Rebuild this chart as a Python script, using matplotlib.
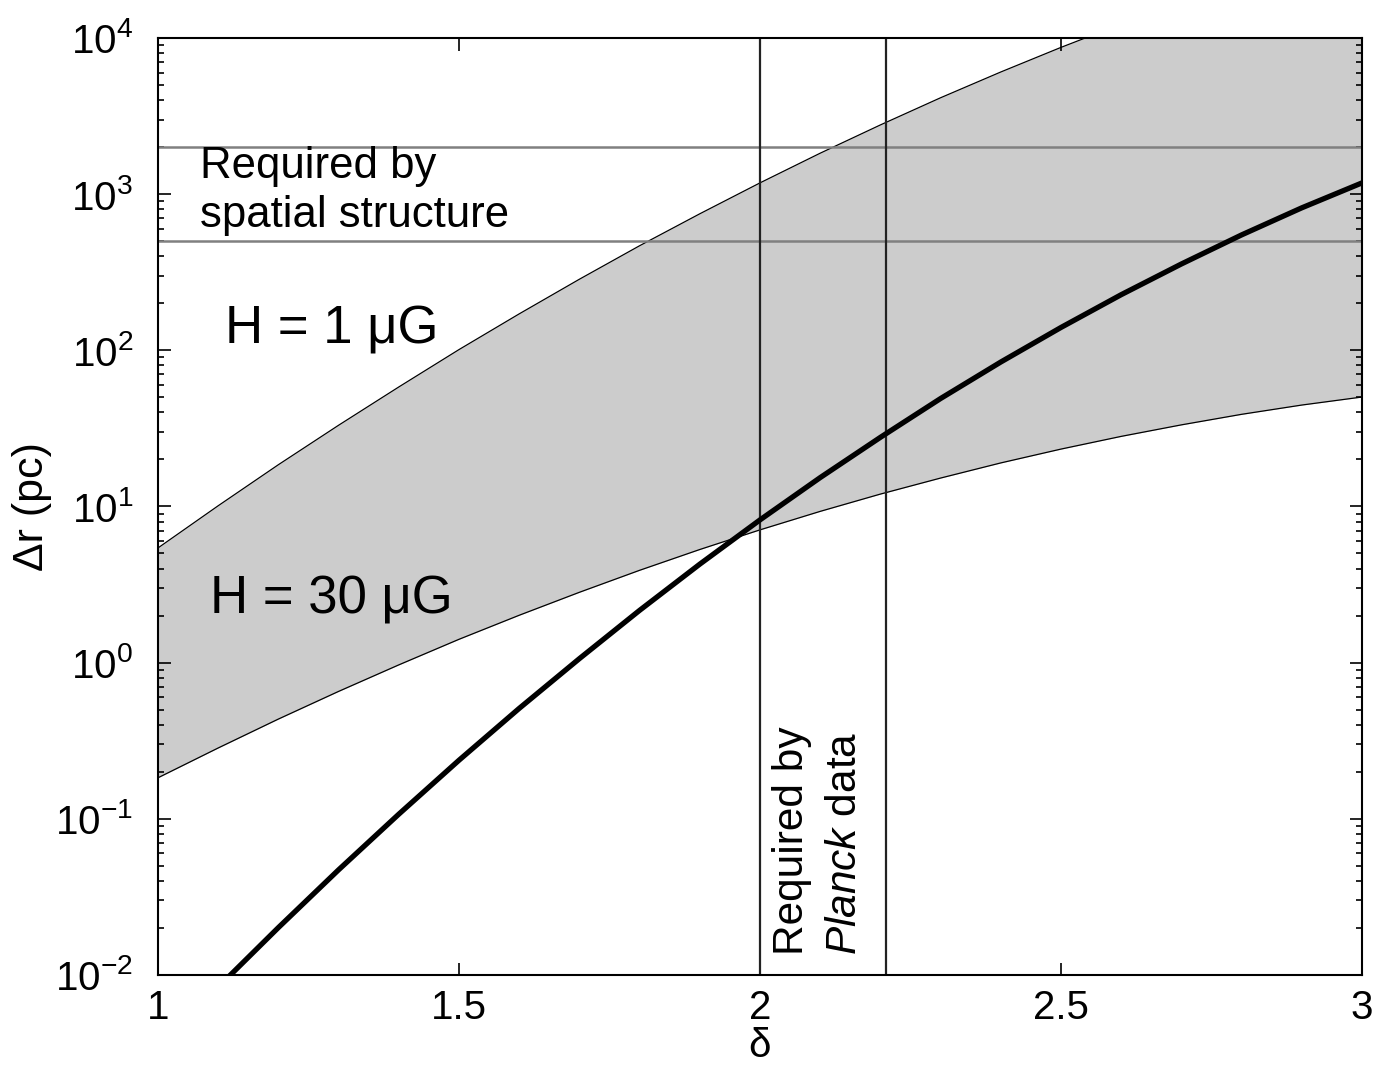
import numpy as np
import matplotlib.pyplot as plt
from matplotlib.ticker import FixedLocator

plt.rcParams['font.family'] = ['Liberation Sans', 'DejaVu Sans']
plt.rcParams['mathtext.fontset'] = 'custom'
plt.rcParams['mathtext.rm'] = 'Liberation Sans'
plt.rcParams['mathtext.it'] = 'Liberation Sans:italic'
plt.rcParams['mathtext.default'] = 'regular'

## delta grid and values
delta = [1.0, 1.1, 1.2, 1.3, 1.4, 1.5, 1.6, 1.7, 1.8, 1.9, 2.0,
         2.1, 2.2, 2.3, 2.4, 2.5, 2.6, 2.7, 2.8, 2.9, 3.0]

# upper edge of band, H = 1 uG
dr_1uG = [5.42, 10.1, 18.5, 33.1, 58.2, 101, 171, 285, 467, 748, 1180,
          1828, 2773, 4140, 6053, 8700, 12270, 17000, 23100, 30800, 40400]
# lower edge of band, H = 30 uG
dr_30uG = [0.183, 0.284, 0.435, 0.654, 0.967, 1.41, 2.01, 2.82, 3.90, 5.30, 7.08,
           9.30, 12.0, 15.2, 19.0, 23.3, 28.1, 33.3, 38.9, 44.6, 50.2]
# thick curve
dr_main = [0.0042, 0.00836, 0.0201, 0.0471, 0.107, 0.237, 0.509, 1.06, 2.16, 4.27, 8.20,
           15.3, 27.7, 49.1, 84.1, 140, 227, 357, 548, 817, 1180]

spatial_range = [500, 2000]      # pc, required by spatial structure
planck_range = [2.0, 2.21]       # delta, required by Planck data

x_ticks = [1, 1.5, 2, 2.5, 3]
x_ticklabels = ['1', '1.5', '2', '2.5', '3']
y_exponents = [-2, -1, 0, 1, 2, 3, 4]

fig = plt.figure(figsize=(13.77, 10.66), dpi=100)
ax = fig.add_axes([0.1147, 0.0854, 0.8744, 0.8790])

ax.fill_between(delta, dr_30uG, dr_1uG, color='#cccccc', lw=0, zorder=1)
ax.plot(delta, dr_1uG, color='black', lw=0.9, zorder=2)
ax.plot(delta, dr_30uG, color='black', lw=0.9, zorder=2)

for yv in spatial_range:
    ax.axhline(yv, color='#808080', lw=1.8, zorder=3)
for xv in planck_range:
    ax.axvline(xv, color='#222222', lw=1.6, zorder=3)

ax.plot(delta, dr_main, color='black', lw=3.8, zorder=4, solid_capstyle='butt')

ax.set_yscale('log')
ax.set_xlim(1, 3)
ax.set_ylim(1e-2, 1e4)

ax.text(1.07, 10**3.02, 'Required by\nspatial structure', fontsize=31.5,
        va='center', ha='left', linespacing=1.25, zorder=5)
ax.text(1.111, 135, 'H = 1 μG', fontsize=38, va='center', ha='left', zorder=5)
ax.text(1.086, 2.52, 'H = 30 μG', fontsize=38, va='center', ha='left', zorder=5)
ax.text(2.097, 0.0134, 'Required by\n$\\it{Planck}$ data', fontsize=30.5, rotation=90,
        ha='center', va='bottom', multialignment='left', linespacing=1.4, zorder=5)

ax.set_xlabel('δ', fontsize=29, labelpad=0)
ax.set_ylabel('Δr (pc)', fontsize=31, labelpad=2)

ax.xaxis.set_major_locator(FixedLocator(x_ticks))
ax.set_xticklabels(x_ticklabels)
ax.yaxis.set_major_locator(FixedLocator([10.0**e for e in y_exponents]))
ax.set_yticklabels(['$10^{%d}$' % e for e in y_exponents])
minor = [m * 10.0**e for e in y_exponents[:-1] for m in range(2, 10)]
ax.yaxis.set_minor_locator(FixedLocator(minor))

ax.tick_params(which='both', direction='in', top=True, right=True, width=1.2, colors='black')
ax.tick_params(which='major', length=9)
ax.tick_params(which='minor', length=4.5)
ax.tick_params(axis='x', labelsize=29, pad=10)
ax.tick_params(axis='y', labelsize=29, pad=18)

for sp in ax.spines.values():
    sp.set_linewidth(1.5)
    sp.set_zorder(6)

fig.savefig('out.png', dpi=100)
